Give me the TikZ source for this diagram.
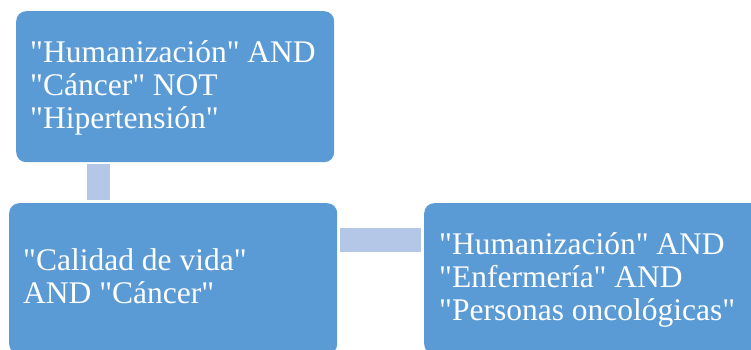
\documentclass[tikz,border=0pt]{standalone}
\usepackage{fontspec}
\setmainfont{Liberation Serif}[Ligatures=TeXOff]
\usetikzlibrary{calc}
\definecolor{boxblue}{RGB}{91,155,213}
\definecolor{connblue}{RGB}{180,199,231}
\tikzset{
  box/.style={fill=boxblue, draw=none, rounded corners=10pt, anchor=north west, inner sep=0pt, minimum height=151pt},
  txt/.style={text=white, anchor=base west, inner sep=0pt, align=left, font=\fontsize{31.5}{33}\selectfont},
  connline/.style={draw=connblue}
}
\begin{document}
\begin{tikzpicture}[x=1pt,y=1pt]
\clip (0,0) rectangle (751,350);
\node[box, minimum width=318pt] (b1) at (16,339) {};
\node[box, minimum width=328pt] (b2) at (9,147) {};
\node[box, minimum width=338pt] (b3) at (424,147) {};
\node[txt] (t1) at (30,221) {"Humanización" AND\\"Cáncer" NOT\\"Hipertensión"};
\node[txt] (t2) at (23,46) {"Calidad de vida"\\AND "Cáncer"};
\node[txt] (t3) at (439,29) {"Humanización" AND\\"Enfermería" AND\\"Personas oncológicas"};
\coordinate (c1) at ($(b1.south west)+(82.25,-2)$);
\coordinate (c2) at ($(b2.north)+(0,3)$);
\draw[connline, line width=23.5pt] (c1) -- (c1 |- c2);
\coordinate (c3) at ($(b2.north east)+(3,-37)$);
\coordinate (c4) at ($(b3.west)+(-3,0)$);
\draw[connline, line width=24pt] (c3) -- (c3 -| c4);
\end{tikzpicture}
\end{document}
